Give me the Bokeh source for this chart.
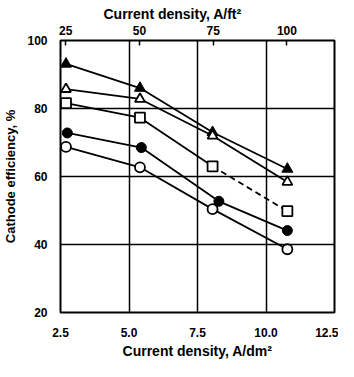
from bokeh.plotting import figure
from bokeh.models import LinearAxis, Range1d, FixedTicker
from bokeh.embed import file_html
from bokeh.resources import INLINE

# Data (current density in A/dm^2, cathode efficiency in %)
x_pts = [2.7, 5.4, 8.05, 10.78]
x_circ_filled = [2.75, 5.45, 8.28, 10.78]
tri_filled = [93.1, 86.0, 73.0, 62.2]
tri_open = [85.7, 82.8, 72.0, 58.4]
sq_open = [81.6, 77.3, 63.0, 49.8]
circ_filled = [72.8, 68.5, 52.7, 44.1]
circ_open = [68.7, 62.7, 50.4, 38.6]

x_ticks = [2.5, 5.0, 7.5, 10.0, 12.5]
y_ticks = [20, 40, 60, 80, 100]
top_ticks = [25, 50, 75, 100]
DM2_TO_FT2 = 9.290304

FONT = "Liberation Sans"

p = figure(width=338, height=361, output_backend="svg", toolbar_location=None,
           x_range=Range1d(2.5, 12.5), y_range=Range1d(20, 100),
           min_border_left=49, min_border_right=4, min_border_top=40, min_border_bottom=42)
p.background_fill_color = "white"
p.border_fill_color = "white"
p.outline_line_color = "black"
p.outline_line_width = 2

# Bottom axis
xa = p.xaxis[0]
xa.ticker = FixedTicker(ticks=x_ticks)
xa.major_label_overrides = {2.5: "2.5", 5.0: "5.0", 7.5: "7.5", 10.0: "10.0", 12.5: "12.5"}
xa.axis_label = "Current density, A/dm\u00b2"

ya = p.yaxis[0]
ya.ticker = FixedTicker(ticks=y_ticks)
ya.axis_label = "Cathode efficiency, %"

# Top axis in A/ft^2
p.extra_x_ranges = {"ft2": Range1d(2.5 * DM2_TO_FT2, 12.5 * DM2_TO_FT2)}
top = LinearAxis(x_range_name="ft2", ticker=FixedTicker(ticks=top_ticks))
top.major_tick_in = 5
top.major_tick_out = 0
top.major_tick_line_width = 1.5
top.major_tick_line_color = "black"
top.major_label_standoff = 6
p.add_layout(top, "above")

for ax in (xa, ya, top):
    ax.axis_line_color = None
    ax.minor_tick_line_color = None
    ax.major_label_text_font = FONT
    ax.major_label_text_font_style = "bold"
    ax.major_label_text_font_size = "12px"
    ax.major_label_text_color = "black"
    ax.axis_label_text_font = FONT
    ax.axis_label_text_font_style = "bold"
    ax.axis_label_text_color = "black"
for ax in (xa, ya):
    ax.major_tick_line_color = None

xa.axis_label_text_font_size = "14px"
ya.axis_label_text_font_size = "13px"
xa.major_label_standoff = 9
xa.axis_label_standoff = 3
ya.major_label_standoff = 7
ya.axis_label_standoff = 6

p.title.text = "Current density, A/ft\u00b2"
p.title.text_font = FONT
p.title.text_font_style = "bold"
p.title.text_font_size = "14px"
p.title.text_color = "black"
p.title.align = "left"
p.title.offset = 43
p.title.standoff = 2

# Grid
p.xgrid.ticker = FixedTicker(ticks=x_ticks)
p.ygrid.ticker = FixedTicker(ticks=y_ticks)
for g in (p.xgrid, p.ygrid):
    g.grid_line_color = "black"
    g.grid_line_width = 1.5
    g.grid_line_alpha = 1.0

LW = 1.8
# Filled triangles
p.line(x_pts, tri_filled, line_color="black", line_width=LW)
p.scatter(x_pts, tri_filled, marker="triangle", size=11, fill_color="black", line_color="black")
# Open triangles
p.line(x_pts, tri_open, line_color="black", line_width=LW)
p.scatter(x_pts, tri_open, marker="triangle", size=10, fill_color="white", line_color="black", line_width=1.8)
# Open squares (last segment dashed)
p.line(x_pts[:3], sq_open[:3], line_color="black", line_width=LW)
p.line(x_pts[2:], sq_open[2:], line_color="black", line_width=LW, line_dash="6 4")
p.scatter(x_pts, sq_open, marker="square", size=10, fill_color="white", line_color="black", line_width=1.8)
# Filled circles
p.line(x_circ_filled, circ_filled, line_color="black", line_width=LW)
p.scatter(x_circ_filled, circ_filled, marker="circle", size=10, fill_color="black", line_color="black")
# Open circles
p.line(x_pts, circ_open, line_color="black", line_width=LW)
p.scatter(x_pts, circ_open, marker="circle", size=10, fill_color="white", line_color="black", line_width=1.8)

open("out.html", "w").write(file_html(p, INLINE))
